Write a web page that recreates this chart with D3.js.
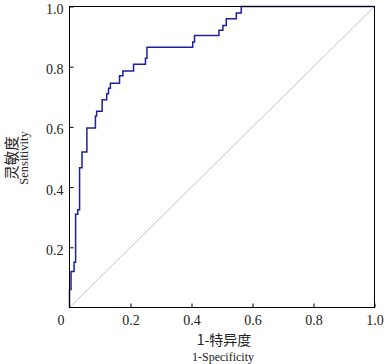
<!DOCTYPE html>
<html><head><meta charset="utf-8">
<script src="https://cdn.jsdelivr.net/npm/d3@7"></script>
<style>html,body{margin:0;padding:0;background:#fff;}svg{display:block;}</style>
</head><body>
<script>
// ROC curve points (false positive rate, true positive rate)
const fpr = [0, 0, 0.005, 0.015, 0.02, 0.027, 0.033, 0.041, 0.057, 0.085, 0.089, 0.107, 0.122, 0.128, 0.134, 0.164, 0.175, 0.210, 0.249, 0.254, 0.404, 0.410, 0.490, 0.503, 0.514, 0.547, 0.563, 1];
const tpr = [0, 0.06, 0.12, 0.15, 0.31, 0.325, 0.464, 0.517, 0.596, 0.636, 0.652, 0.690, 0.710, 0.728, 0.745, 0.770, 0.786, 0.808, 0.828, 0.865, 0.882, 0.904, 0.921, 0.937, 0.959, 0.978, 1, 1];
const refLine = [0, 1];
const tickValues = [0.2, 0.4, 0.6, 0.8, 1.0];
const tickLabels = ["0.2", "0.4", "0.6", "0.8", "1.0"];
const originLabel = "0";
const xTitle = "1-特异度", xSubTitle = "1-Specificity";
const yTitle = "灵敏度", ySubTitle = "Sensitivity";

const W = 386, H = 364;
const svg = d3.select("body").append("svg").attr("width", W).attr("height", H);
const x = d3.scaleLinear().domain([0, 1]).range([69.5, 374.5]);
const y = d3.scaleLinear().domain([0, 1]).range([307.5, 6.5]);
const serif = "'Liberation Serif','Times New Roman',serif";
const cjk = "'Noto Sans CJK SC','Noto Serif CJK SC',serif";

// diagonal reference
svg.append("line")
  .attr("x1", x(refLine[0])).attr("y1", y(refLine[0]))
  .attr("x2", x(refLine[1])).attr("y2", y(refLine[1]))
  .attr("stroke", "#bdbdbd").attr("stroke-width", 0.9);

// ROC curve
const pts = fpr.map((f, i) => [f, tpr[i]]);
svg.append("path").datum(pts)
  .attr("d", d3.line().x(d => x(d[0])).y(d => y(d[1])).curve(d3.curveStepAfter))
  .attr("fill", "none").attr("stroke", "#1e1e9e").attr("stroke-width", 1.5);

// frame
svg.append("rect").attr("x", x(0)).attr("y", y(1))
  .attr("width", x(1) - x(0)).attr("height", y(0) - y(1))
  .attr("fill", "none").attr("stroke", "#000").attr("stroke-width", 1);

// axes (inward ticks)
const xAxis = d3.axisBottom(x).tickValues(tickValues).tickSize(-4).tickFormat((d, i) => tickLabels[i]);
const gx = svg.append("g").attr("transform", `translate(0,${y(0)})`).call(xAxis);
gx.select(".domain").remove();
gx.selectAll("text").attr("font-family", serif).attr("font-size", 14).attr("fill", "#222").attr("y", 17.5).attr("dy", 0);
gx.selectAll("line").attr("stroke", "#000");

const yAxis = d3.axisLeft(y).tickValues(tickValues).tickSize(-4).tickFormat((d, i) => tickLabels[i]);
const gy = svg.append("g").attr("transform", `translate(${x(0)},0)`).call(yAxis);
gy.select(".domain").remove();
gy.selectAll("text").attr("font-family", serif).attr("font-size", 14).attr("fill", "#222").attr("x", -6).attr("dy", "0.5em");
gy.selectAll("line").attr("stroke", "#000");

// origin label
svg.append("text").attr("x", 61).attr("y", 325).attr("text-anchor", "middle")
  .attr("font-family", serif).attr("font-size", 14).attr("fill", "#222").text(originLabel);

// x titles
svg.append("text").attr("x", 224).attr("y", 345).attr("text-anchor", "middle")
  .attr("font-family", cjk).attr("font-size", 14).attr("fill", "#222").text(xTitle);
svg.append("text").attr("x", 223).attr("y", 361).attr("text-anchor", "middle")
  .attr("font-family", serif).attr("font-size", 12).attr("fill", "#222").text(xSubTitle);

// y titles
svg.append("text").attr("transform", "translate(17,158) rotate(-90)").attr("text-anchor", "middle")
  .attr("font-family", cjk).attr("font-size", 14.5).attr("fill", "#222").text(yTitle);
svg.append("text").attr("transform", "translate(28,158) rotate(-90)").attr("text-anchor", "middle")
  .attr("font-family", serif).attr("font-size", 12.5).attr("fill", "#222").text(ySubTitle);
</script>
</body></html>
